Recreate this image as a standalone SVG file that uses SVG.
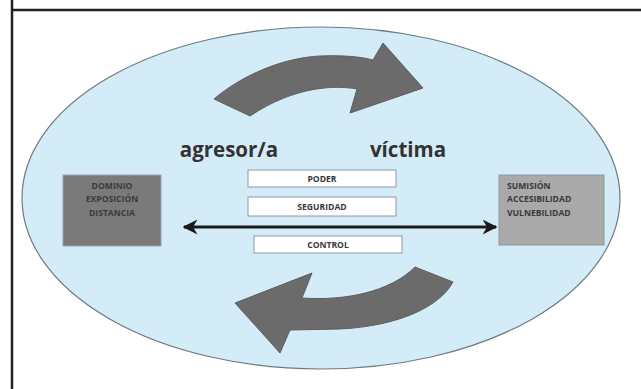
<svg xmlns="http://www.w3.org/2000/svg" width="641" height="389" viewBox="0 0 641 389">
<defs>
<marker id="ah" viewBox="0 0 10 10" refX="9" refY="5" markerWidth="5" markerHeight="5" orient="auto-start-reverse" markerUnits="strokeWidth">
<path d="M0,0 L10,5 L0,10 L3,5 Z" fill="#1a1a1a"/>
</marker>
</defs>
<style>
.frame{stroke:#222;stroke-width:2.5;fill:none}
.big{fill:#6b6b6b;stroke:#5e5e5e;stroke-width:1}
.lbl{font-family:"Open Sans","DejaVu Sans",sans-serif;font-weight:bold;font-size:20.5px;fill:#333}
.sm{font-family:"Open Sans","DejaVu Sans",sans-serif;font-weight:bold;font-size:8.6px;fill:#3a3a3a}
.wbox{fill:#fff;stroke:#8a9aa4;stroke-width:1}
</style>
<rect width="641" height="389" fill="#fff"/>
<line class="frame" x1="12" y1="0" x2="12" y2="389"/>
<line class="frame" x1="11" y1="10" x2="641" y2="10"/>
<g id="ellipse">
<ellipse cx="321" cy="198" rx="299" ry="171" fill="#d3ecf8" stroke="#6e7a80" stroke-width="1.2"/>
</g>
<g id="arrow-top">
<path class="big" d="M214,99 C240,77 280,58 320,56 C345,55 362,57 373,60 L383,43 L423,88 L350,113 L357,89 C335,85 295,86 250,116 Z"/>
</g>
<g id="arrow-bottom">
<path class="big" d="M415,267 L453,282 C440,306 400,326 340,329 L290,330 L280,353 L235,303 L312,273 L302,298 C345,301 390,292 415,267 Z"/>
</g>
<g id="label-agresor"><text class="lbl" x="229" y="157" text-anchor="middle">agresor/a</text></g>
<g id="label-victima"><text class="lbl" x="408" y="157" text-anchor="middle">víctima</text></g>
<g id="box-left">
<rect x="63" y="175" width="98" height="71" fill="#7a7a7a" stroke="#9aa3a8" stroke-width="1"/>
<text class="sm" x="112" y="189" text-anchor="middle">DOMINIO</text>
<text class="sm" x="112" y="202" text-anchor="middle">EXPOSICIÓN</text>
<text class="sm" x="112" y="216" text-anchor="middle">DISTANCIA</text>
</g>
<g id="box-right">
<rect x="499" y="175" width="105" height="70" fill="#a9a9a9" stroke="#8e979c" stroke-width="1"/>
<text class="sm" x="507" y="189">SUMISIÓN</text>
<text class="sm" x="507" y="202">ACCESIBILIDAD</text>
<text class="sm" x="507" y="216">VULNEBILIDAD</text>
</g>
<g id="box-poder">
<rect class="wbox" x="248" y="170" width="148" height="17"/>
<text class="sm" x="322" y="181.5" text-anchor="middle">PODER</text>
</g>
<g id="box-seguridad">
<rect class="wbox" x="248" y="197" width="148" height="19"/>
<text class="sm" x="322" y="209.5" text-anchor="middle">SEGURIDAD</text>
</g>
<g id="box-control">
<rect class="wbox" x="254" y="236" width="148" height="17"/>
<text class="sm" x="328" y="247.5" text-anchor="middle">CONTROL</text>
</g>
<g id="connectors">
<line x1="184" y1="227" x2="496" y2="227" stroke="#1a1a1a" stroke-width="3" marker-start="url(#ah)" marker-end="url(#ah)"/>
</g>
</svg>
